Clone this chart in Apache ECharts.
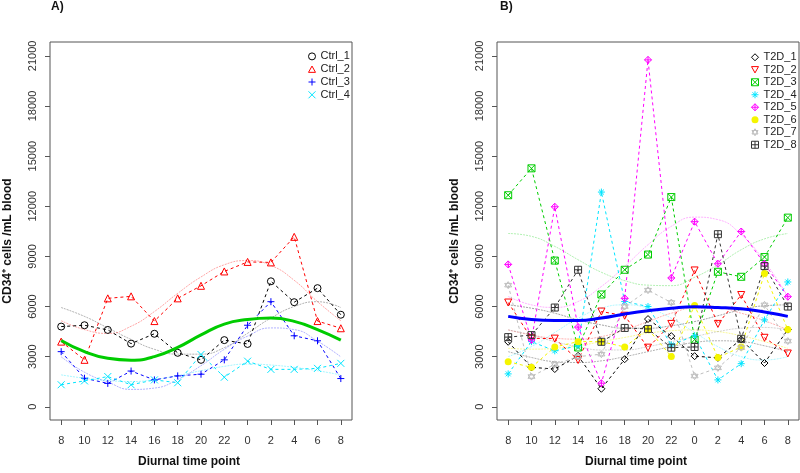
<!DOCTYPE html>
<html>
<head>
<meta charset="utf-8">
<script src="https://cdn.jsdelivr.net/npm/echarts@6/dist/echarts.min.js"></script>
<style>
  html, body { margin: 0; padding: 0; background: #fff; }
  #main { width: 800px; height: 473px; }
</style>
</head>
<body>
<div id="main"></div>
<script>
// x axis: diurnal time points (hours), 13 samples
var hours = ['8', '10', '12', '14', '16', '18', '20', '22', '0', '2', '4', '6', '8'];
var yTicks = [0, 3000, 6000, 9000, 12000, 15000, 18000, 21000];

// panel A - controls
var ctrlNames = ['Ctrl_1', 'Ctrl_2', 'Ctrl_3', 'Ctrl_4'];
var ctrl1 = [4800, 4880, 4600, 3780, 4370, 3230, 2810, 3990, 3760, 7510, 6260, 7100, 5510];
var ctrl2 = [3900, 2810, 6490, 6610, 5130, 6490, 7240, 8100, 8670, 8640, 10170, 5130, 4700];
var ctrl3 = [3300, 1710, 1400, 2140, 1610, 1850, 1950, 2810, 4880, 6290, 4250, 3950, 1690];
var ctrl4 = [1320, 1550, 1810, 1320, 1610, 1440, 3130, 1770, 2730, 2240, 2240, 2300, 2600];
// cosinor fits
var fitCtrl1 = [5940, 5410, 4720, 4030, 3440, 3150, 3150, 3540, 4400, 5310, 6000, 6290, 5940];
var fitCtrl2 = [5150, 4620, 4390, 4820, 5700, 6790, 7770, 8500, 8750, 8460, 7570, 6290, 5150];
var fitCtrl3 = [2990, 2070, 1480, 1040, 1120, 1630, 2460, 3440, 4230, 4720, 4620, 3930, 2990];
var fitCtrl4 = [1910, 1710, 1570, 1510, 1630, 1870, 2160, 2420, 2560, 2500, 2360, 2160, 1910];
var meanCtrl = [3970, 3300, 2900, 2790, 3000, 3550, 4300, 4950, 5220, 5310, 5110, 4620, 3990];

// panel B - type 2 diabetes
var t2dNames = ['T2D_1', 'T2D_2', 'T2D_3', 'T2D_4', 'T2D_5', 'T2D_6', 'T2D_7', 'T2D_8'];
var t2d1 = [3890, 2360, 2260, 3050, 1080, 2850, 5250, 4230, 3030, 2930, 4030, 2620, 4620];
var t2d2 = [6240, 4100, 4080, 2800, 5700, 5450, 3540, 4960, 8160, 4960, 6690, 4130, 3190];
var t2d3 = [12660, 14270, 8750, 3550, 6720, 8200, 9110, 12550, 4020, 8080, 7780, 8960, 11320];
var t2d4 = [1970, 3900, 3350, 3650, 12850, 6300, 6000, 3700, 4250, 1610, 2580, 5200, 7470];
var t2d5 = [8520, 4000, 11970, 4770, 1410, 6490, 20760, 7710, 11080, 8560, 10490, 8560, 6590];
var t2d6 = [2700, 2360, 3580, 3900, 3900, 3580, 4650, 3010, 6060, 2950, 3580, 7970, 4620];
var t2d7 = [7280, 1810, 2540, 3000, 3150, 6000, 6980, 6240, 1840, 2330, 3540, 6100, 3930];
var t2d8 = [4170, 4290, 5940, 8200, 3890, 4720, 4660, 3540, 3580, 10330, 4070, 8420, 6000];
var fitT2d1 = [3300, 2950, 2700, 2650, 2750, 3000, 3300, 3600, 3850, 3950, 3900, 3650, 3300];
var fitT2d2 = [4600, 4300, 4100, 4050, 4200, 4600, 5100, 5600, 5900, 5900, 5600, 5150, 4600];
var fitT2d3 = [10370, 10200, 9600, 8800, 8050, 7550, 7280, 7250, 7750, 8500, 9400, 10050, 10370];
var fitT2d4 = [3000, 3600, 4450, 5300, 5900, 6100, 5900, 5300, 4450, 3600, 3000, 2800, 3000];
var fitT2d5 = [6600, 6100, 5950, 6300, 7200, 8400, 9700, 10800, 11350, 11200, 10300, 8700, 6600];
var fitT2d6 = [3500, 3450, 3500, 3650, 3900, 4150, 4400, 4550, 4600, 4500, 4250, 3900, 3500];
var fitT2d7 = [4600, 4300, 3900, 3600, 3400, 3400, 3600, 3900, 4200, 4500, 4700, 4750, 4600];
var fitT2d8 = [6100, 5900, 5600, 5200, 4900, 4700, 4700, 4850, 5100, 5450, 5800, 6050, 6100];
var meanT2d = [5410, 5220, 5160, 5160, 5310, 5550, 5750, 5900, 5985, 5945, 5865, 5670, 5410];

var FONT = 'Liberation Sans, Arial, Helvetica, sans-serif';

// R-like plotting symbols
var sym = {
  circle: 'path://M0,5A5,5,0,1,1,10,5A5,5,0,1,1,0,5Z',
  triUp: 'path://M5,0L10,9L0,9Z',
  plus: 'path://M5,0V10M0,5H10',
  cross: 'path://M0,0L10,10M10,0L0,10',
  diamond: 'path://M5,0L10,5L5,10L0,5Z',
  triDown: 'path://M0,0L10,0L5,9Z',
  boxX: 'path://M0,0H10V10H0ZM0,0L10,10M10,0L0,10',
  star: 'path://M5,0V10M0,5H10M1.5,1.5L8.5,8.5M8.5,1.5L1.5,8.5',
  diamondPlus: 'path://M5,0L10,5L5,10L0,5ZM5,0V10M0,5H10',
  dot: 'circle',
  david: 'path://M5,0L9.33,7.5L0.67,7.5ZM5,10L0.67,2.5L9.33,2.5Z',
  boxPlus: 'path://M0,0H10V10H0ZM5,0V10M0,5H10'
};

var ctrlData = [ctrl1, ctrl2, ctrl3, ctrl4];
var ctrlFits = [fitCtrl1, fitCtrl2, fitCtrl3, fitCtrl4];
var ctrlColors = ['#000000', '#ff0000', '#0000ff', '#00e5ff'];
var ctrlFitColors = ['rgba(0,0,0,0.3)', 'rgba(255,0,0,0.35)', 'rgba(0,0,255,0.3)', 'rgba(0,230,255,0.35)'];
var ctrlSyms = [sym.circle, sym.triUp, sym.plus, sym.cross];

var t2dData = [t2d1, t2d2, t2d3, t2d4, t2d5, t2d6, t2d7, t2d8];
var t2dFits = [fitT2d1, fitT2d2, fitT2d3, fitT2d4, fitT2d5, fitT2d6, fitT2d7, fitT2d8];
var t2dColors = ['#000000', '#ff0000', '#00cd00', '#00e5ff', '#ff00ff', '#f5f500', '#bebebe', '#333333'];
var t2dFitColors = ['rgba(0,0,0,0.3)', 'rgba(255,0,0,0.3)', 'rgba(0,205,0,0.3)', 'rgba(0,230,255,0.3)',
  'rgba(255,0,255,0.3)', 'rgba(240,240,0,0.4)', 'rgba(150,150,150,0.4)', 'rgba(0,0,0,0.35)'];
var t2dSyms = [sym.diamond, sym.triDown, sym.boxX, sym.star, sym.diamondPlus, sym.dot, sym.david, sym.boxPlus];

function toPoints(values) {
  return values.map(function (v, i) { return [i, v]; });
}

function markStyle(color, symbol) {
  if (symbol === 'circle') {
    return {color: color};
  }
  return {color: 'none', borderColor: color, borderWidth: 1};
}

function dataSeries(name, values, color, symbol, idx) {
  return {
    name: name,
    type: 'line',
    xAxisIndex: idx,
    yAxisIndex: idx,
    data: toPoints(values),
    symbol: symbol,
    symbolSize: 7,
    lineStyle: {color: color, width: 1, type: [3, 3]},
    itemStyle: markStyle(color, symbol),
    z: 3,
    silent: true
  };
}

function fitSeries(values, color, idx) {
  return {
    type: 'line',
    xAxisIndex: idx,
    yAxisIndex: idx,
    data: toPoints(values),
    smooth: 0.5,
    symbol: 'none',
    lineStyle: {color: color, width: 1, type: [2, 1]},
    z: 2,
    silent: true
  };
}

function meanSeries(values, color, idx) {
  return {
    type: 'line',
    xAxisIndex: idx,
    yAxisIndex: idx,
    data: toPoints(values),
    smooth: 0.5,
    symbol: 'none',
    lineStyle: {color: color, width: 3},
    z: 4,
    silent: true
  };
}

function legendItems(names, colors, syms) {
  return names.map(function (n, i) {
    return {name: n, icon: syms[i], itemStyle: markStyle(colors[i], syms[i])};
  });
}

function makeX(idx) {
  return {
    type: 'value',
    gridIndex: idx,
    min: -0.48,
    max: 12.48,
    name: 'Diurnal time point',
    nameLocation: 'middle',
    nameGap: 36,
    nameTextStyle: {fontFamily: FONT, fontSize: 12, fontWeight: 'bold', color: '#111', padding: [0, 24, 0, 0]},
    axisLine: {show: false, onZero: false},
    axisTick: {show: true, length: 5, lineStyle: {color: '#555'}, customValues: hours.map(function (h, i) { return i; })},
    axisLabel: {
      fontFamily: FONT, fontSize: 11, color: '#333', margin: 15,
      customValues: hours.map(function (h, i) { return i; }),
      formatter: function (v) { return hours[Math.round(v)]; }
    },
    splitLine: {show: false}
  };
}

function makeY(idx) {
  return {
    type: 'value',
    gridIndex: idx,
    min: -790,
    max: 21830,
    name: 'CD34\u207A cells /mL blood',
    nameLocation: 'middle',
    nameGap: 36,
    nameTextStyle: {fontFamily: FONT, fontSize: 12, fontWeight: 'bold', color: '#111', padding: [0, 20, 0, 0]},
    axisLine: {show: false, onZero: false},
    axisTick: {show: true, length: 5, lineStyle: {color: '#555'}, customValues: yTicks},
    axisLabel: {
      fontFamily: FONT, fontSize: 11, color: '#333', rotate: 90, margin: 12, customValues: yTicks,
      formatter: function (v) { return String(v); }
    },
    splitLine: {show: false}
  };
}

var series = [];
ctrlFits.forEach(function (f, i) { series.push(fitSeries(f, ctrlFitColors[i], 0)); });
ctrlData.forEach(function (d, i) { series.push(dataSeries(ctrlNames[i], d, ctrlColors[i], ctrlSyms[i], 0)); });
series.push(meanSeries(meanCtrl, '#00cc00', 0));
t2dFits.forEach(function (f, i) { series.push(fitSeries(f, t2dFitColors[i], 1)); });
t2dData.forEach(function (d, i) { series.push(dataSeries(t2dNames[i], d, t2dColors[i], t2dSyms[i], 1)); });
series.push(meanSeries(meanT2d, '#0000ff', 1));

var myChart = echarts.init(document.getElementById('main'));
var option = {
  backgroundColor: '#fff',
  animation: false,
  title: [
    {text: 'A)', left: 51, top: 1, padding: 0, textStyle: {fontFamily: FONT, fontSize: 12, fontWeight: 'bold', color: '#111'}},
    {text: 'B)', left: 500, top: 1, padding: 0, textStyle: {fontFamily: FONT, fontSize: 12, fontWeight: 'bold', color: '#111'}}
  ],
  grid: [
    {left: 50, top: 42, width: 302, height: 383, show: true, borderColor: '#555', borderWidth: 1, backgroundColor: 'transparent'},
    {left: 497, top: 42, width: 302, height: 383, show: true, borderColor: '#555', borderWidth: 1, backgroundColor: 'transparent'}
  ],
  legend: [
    {
      orient: 'vertical', left: 306, top: 50, itemWidth: 7, itemHeight: 7, itemGap: 0, padding: 0,
      selectedMode: false,
      textStyle: {fontFamily: FONT, fontSize: 11, color: '#222', lineHeight: 12.8},
      data: legendItems(ctrlNames, ctrlColors, ctrlSyms)
    },
    {
      orient: 'vertical', left: 749, top: 51, itemWidth: 7, itemHeight: 7, itemGap: 0, padding: 0,
      selectedMode: false,
      textStyle: {fontFamily: FONT, fontSize: 11, color: '#222', lineHeight: 12.5},
      data: legendItems(t2dNames, t2dColors, t2dSyms)
    }
  ],
  xAxis: [makeX(0), makeX(1)],
  yAxis: [makeY(0), makeY(1)],
  series: series
};
myChart.setOption(option);
</script>
</body>
</html>
